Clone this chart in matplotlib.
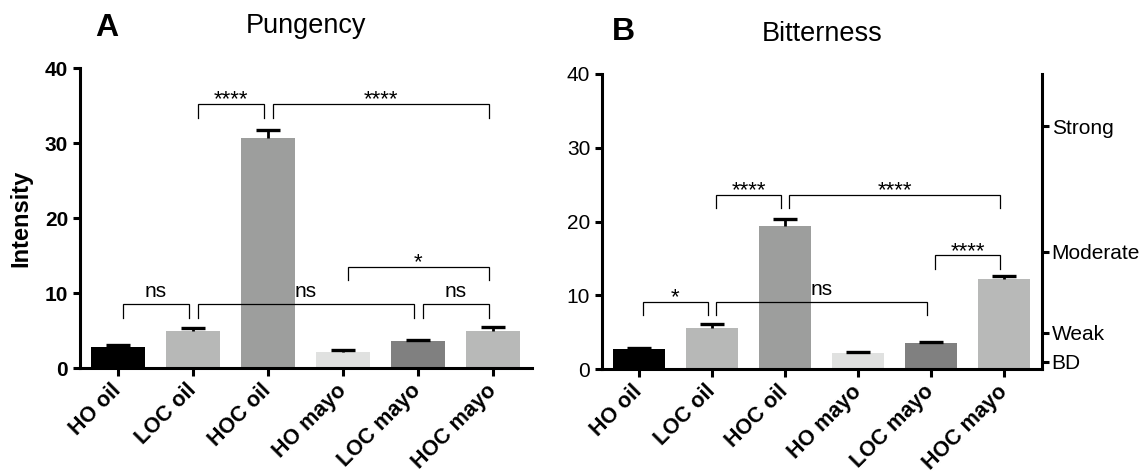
import numpy as np
import matplotlib
matplotlib.use("Agg")
import matplotlib.pyplot as plt
import matplotlib.transforms as mtransforms

plt.rcParams['font.family'] = ['Liberation Sans', 'DejaVu Sans']

groups = ["HO oil", "LOC oil", "HOC oil", "HO mayo", "LOC mayo", "HOC mayo"]
colors = ["#000000", "#b7b8b7", "#9d9e9d", "#e0e1e0", "#808080", "#b8b9b8"]

pungency_mean = [2.8, 4.9, 30.7, 2.2, 3.6, 4.9]
pungency_err = [0.3, 0.4, 1.1, 0.2, 0.15, 0.55]

bitterness_mean = [2.65, 5.6, 19.4, 2.2, 3.55, 12.2]
bitterness_err = [0.25, 0.55, 1.0, 0.15, 0.15, 0.4]

# significance comparisons: (group i, group j, label)
pungency_cmp = [(1, 2, "****"), (2, 5, "****"), (0, 1, "ns"),
                (1, 4, "ns"), (4, 5, "ns"), (3, 5, "*")]
pungency_cmp_y = [35.2, 35.2, 8.5, 8.5, 8.5, 13.5]

bitterness_cmp = [(1, 2, "****"), (2, 5, "****"), (0, 1, "*"),
                  (1, 4, "ns"), (4, 5, "****")]
bitterness_cmp_y = [23.6, 23.6, 9.1, 9.1, 15.4]

intensity_ticks = [0.96, 4.9, 15.9, 32.9]
intensity_labels = ["BD", "Weak", "Moderate", "Strong"]

LW = 2.2


def bracket(ax, i, j, y, label, drop=1.8, off=0.06):
    x1 = i + off
    x2 = j - off
    ax.plot([x1, x1, x2, x2], [y - drop, y, y, y - drop], color="black", lw=0.9,
            solid_joinstyle="miter", zorder=5)
    if "*" in label:
        ax.text((x1 + x2) / 2, y + 0.55, label, ha="center", va="center", fontsize=16)
    else:
        ax.text((x1 + x2) / 2, y + 1.7, label, ha="center", va="center", fontsize=15)


def draw_bars(ax, means, errs, width):
    x = np.arange(len(groups))
    means = np.array(means)
    tops = means + np.array(errs)
    ax.bar(x, means, width=width, color=colors, zorder=2)
    ax.vlines(x, means, tops, color="black", lw=2, zorder=3)
    ax.hlines(tops, x - 0.165, x + 0.165, color="black", lw=2.4, zorder=3)
    ax.set_xticks(x)
    ax.set_xticklabels(groups, rotation=45, ha="right", va="center", rotation_mode="anchor",
                       fontsize=15.5, fontweight="bold")
    shift = mtransforms.ScaledTranslation(6 / 100, 0, fig.dpi_scale_trans)
    for lab in ax.get_xticklabels():
        lab.set_transform(lab.get_transform() + shift)
    ax.set_ylim(0, 40)
    ax.set_xlim(-0.507, 5.52)
    ax.set_yticks([0, 10, 20, 30, 40])
    ax.spines["top"].set_visible(False)
    ax.spines["right"].set_visible(False)
    ax.spines["left"].set_linewidth(LW)
    ax.spines["bottom"].set_linewidth(LW)
    ax.tick_params(axis="y", width=LW, length=5, labelsize=15, pad=3.5)
    ax.tick_params(axis="x", width=LW, length=6, pad=8)


fig = plt.figure(figsize=(11.42, 4.74), dpi=100)

axA = fig.add_axes([0.0701, 0.2236, 0.3958, 0.6329])
draw_bars(axA, pungency_mean, pungency_err, 0.73)
for lab in axA.get_yticklabels():
    lab.set_fontweight("bold")
for (i, j, lab), y in zip(pungency_cmp, pungency_cmp_y):
    bracket(axA, i, j, y, lab)
fig.text(21 / 1142, 0.539, "Intensity", rotation=90, ha="center", va="center",
         fontsize=17, fontweight="bold")
fig.text(306 / 1142, 1 - 33 / 474, "Pungency", ha="center", va="baseline", fontsize=19.5)
fig.text(95 / 1142, 1 - 27.5 / 474, "A", fontsize=23, fontweight="bold", ha="left", va="center")

axB = fig.add_axes([0.5271, 0.2215, 0.3853, 0.6224])
draw_bars(axB, bitterness_mean, bitterness_err, 0.72)
for (i, j, lab), y in zip(bitterness_cmp, bitterness_cmp_y):
    bracket(axB, i, j, y, lab)
fig.text(822 / 1142, 1 - 41 / 474, "Bitterness", ha="center", va="baseline", fontsize=19.5)
fig.text(612 / 1142, 1 - 31.5 / 474, "B", fontsize=23, fontweight="bold", ha="left", va="center")

axR = axB.twinx()
axR.set_ylim(0, 40)
axR.set_yticks(intensity_ticks)
axR.set_yticklabels(intensity_labels)
for s in ["top", "left", "bottom"]:
    axR.spines[s].set_visible(False)
axR.spines["right"].set_linewidth(LW)
axR.tick_params(axis="y", width=LW, length=5, labelsize=15, pad=2)

fig.savefig("out.png", dpi=100)
